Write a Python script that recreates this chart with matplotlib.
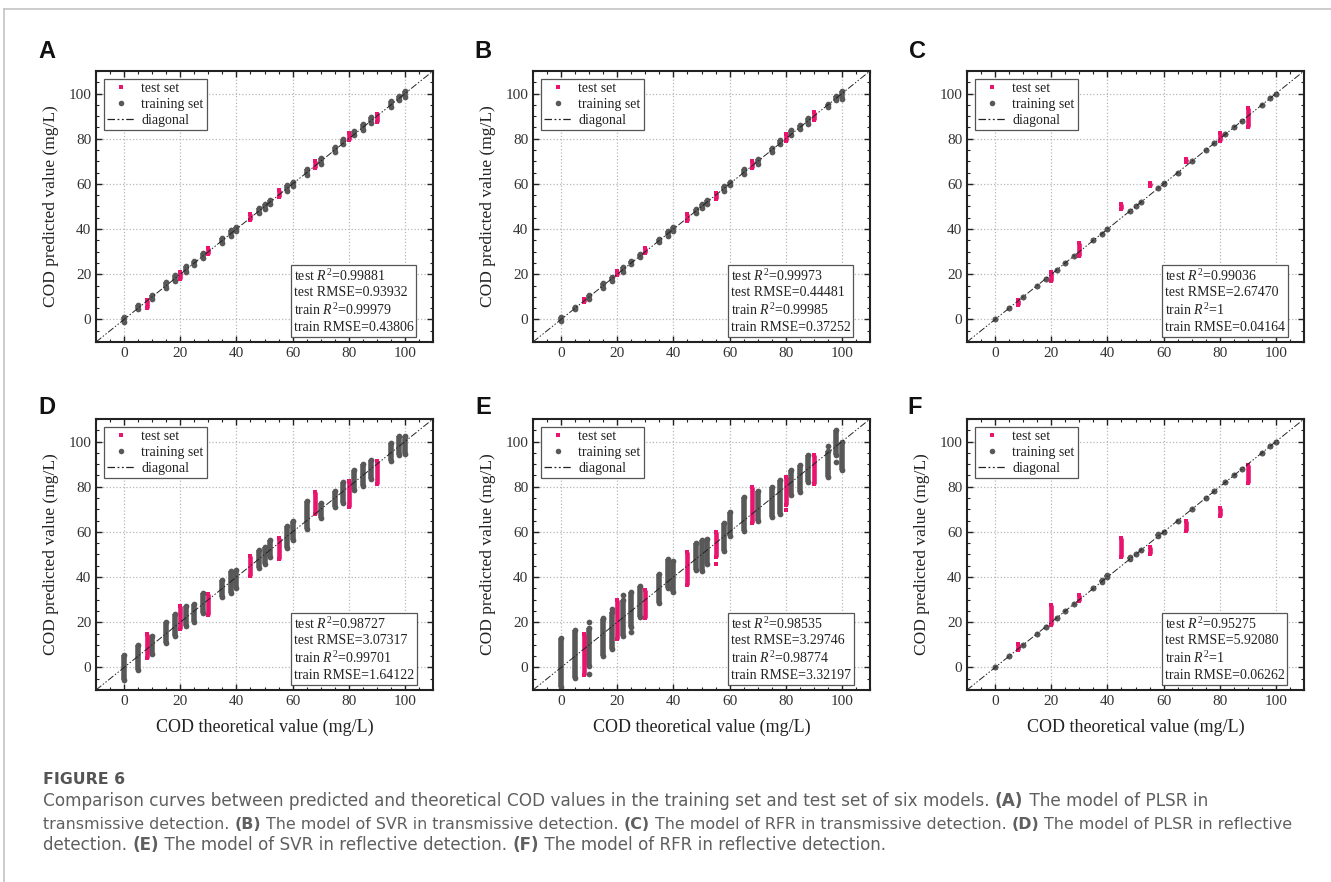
import matplotlib
matplotlib.use("Agg")
import matplotlib.pyplot as plt
from matplotlib.lines import Line2D
from matplotlib.ticker import MultipleLocator

plt.rcParams['font.family'] = ['Liberation Serif']
plt.rcParams['mathtext.fontset'] = 'custom'
plt.rcParams['mathtext.rm'] = 'Liberation Serif'
plt.rcParams['mathtext.it'] = 'Liberation Serif:italic'

# COD levels (mg/L)
train_x = [0, 5, 10, 15, 18, 22, 25, 28, 35, 38, 40, 48, 50, 52, 58, 60, 65, 70, 75, 78, 82, 85, 88, 95, 98, 100]
test_x = [8, 20, 30, 45, 55, 68, 80, 90]

# lowest / highest predicted value of each column, per model
A_train_lo = [-1, 4.5, 9, 14, 17, 21, 24, 27, 34, 37, 39, 47, 49, 51, 57, 59, 64, 69, 74, 77.5, 81.5, 84, 87, 94, 97, 98.5]
A_train_hi = [1, 6.5, 11, 16.5, 19.5, 23.5, 26, 29.5, 36, 39.5, 41, 49.5, 51, 53, 59.5, 61, 66.5, 71.5, 76.5, 80, 83.5, 86.5, 89.5, 96.5, 99, 101]
A_test_lo = [5, 18, 29, 44, 54, 67, 79.5, 87.5]
A_test_hi = [8.5, 21, 31.5, 46.5, 57.5, 70, 82.5, 91]

B_train_lo = [-0.5, 4.5, 9, 14, 17, 21, 24.5, 27.5, 34.5, 37, 39, 47, 49.5, 51, 57, 59.5, 64.5, 69, 74, 77.5, 81.5, 84.5, 86.5, 94, 97, 97.5]
B_train_hi = [1, 5.5, 11, 16, 19, 23, 26, 29, 35.5, 39, 41, 49, 51, 53, 59, 61, 66.5, 71, 76, 79.5, 84, 86, 89, 95.5, 99, 101]
B_test_lo = [7.5, 19.5, 29.5, 43.5, 53.5, 67, 79, 88.5]
B_test_hi = [9, 21.5, 31.5, 46.5, 56, 70, 82, 92]

C_train_lo = [0, 5, 10, 15, 18, 22, 25, 28, 35, 38, 40, 48, 50, 52, 58, 60, 65, 70, 75, 78, 82, 85, 88, 95, 98, 100]
C_train_hi = [0, 5, 10, 15, 18, 22, 25, 28, 35, 38, 40, 48, 50, 52, 58, 60.5, 65, 70, 75, 78, 82, 85, 88, 95, 98, 100]
C_test_lo = [6.5, 17, 28, 49, 59, 69.5, 79, 85]
C_test_hi = [8.5, 21, 34, 51, 60.5, 71, 82.5, 93.5]

D_train_lo = [-5.5, -1, 6, 11, 14, 18.5, 20, 24, 31, 33, 35, 44, 46, 49, 53, 56.5, 61.5, 66, 71, 73, 78.5, 80.5, 83.5, 91.5, 94, 94.5]
D_train_hi = [5.5, 10, 14, 20, 23.5, 27, 28, 33, 38.5, 42.5, 43, 52, 53.5, 56.5, 62.5, 65, 73.5, 73, 78, 82, 87.5, 90, 92, 99.5, 102.5, 102.5]
D_test_lo = [4, 17, 23, 40.5, 48, 68, 71, 81]
D_test_hi = [15, 27, 32.5, 49.5, 57.5, 77.5, 82.5, 91.5]

E_train_lo = [-8.5, -4.5, 0.5, 5, 8, 14, 18, 22.5, 28.5, 35, 33.5, 43, 42.5, 46, 51.5, 58, 60.5, 65, 66.5, 68, 76.5, 77.5, 82, 84.5, 94, 87.5]
E_train_hi = [13, 16.5, 17.5, 21.5, 24.5, 30, 33.5, 36, 41.5, 48, 47, 55, 56.5, 57, 64, 69, 75.5, 78, 80, 83, 87.5, 89.5, 94, 96, 105, 100]
E_test_lo = [-3.5, 12.5, 22, 36.5, 49, 64, 72, 81]
E_test_hi = [15, 30, 34.5, 51, 60, 80, 84.5, 94]
# stray single predictions in model E
E_train_out_x = [10, 10, 15, 18, 22, 25, 95, 98]
E_train_out_y = [20, -3, 22, 26, 32, 15.5, 98, 91]
E_test_out_x = [55, 80]
E_test_out_y = [46, 69.5]

F_train_lo = [0, 5, 10, 15, 18, 22, 25, 28, 35, 38, 40, 48, 50, 52, 58, 60, 65, 70, 75, 78, 82, 85, 88, 95, 98, 100]
F_train_hi = [0, 5, 10, 15, 18, 22, 25, 28, 35, 38.5, 41, 49, 50, 52, 59, 60, 65, 70, 75, 78, 82, 85, 88, 95, 98, 100]
F_test_lo = [7.5, 19, 29.5, 49, 50, 60.5, 67, 81.5]
F_test_hi = [10.5, 27.5, 32, 57.5, 53.5, 65, 70.5, 89.5]

panel_names = ['A', 'B', 'C', 'D', 'E', 'F']
test_r2 = ['0.99881', '0.99973', '0.99036', '0.98727', '0.98535', '0.95275']
test_rmse = ['0.93932', '0.44481', '2.67470', '3.07317', '3.29746', '5.92080']
train_r2 = ['0.99979', '0.99985', '1', '0.99701', '0.98774', '1']
train_rmse = ['0.43806', '0.37252', '0.04164', '1.64122', '3.32197', '0.06262']

train_lo = [A_train_lo, B_train_lo, C_train_lo, D_train_lo, E_train_lo, F_train_lo]
train_hi = [A_train_hi, B_train_hi, C_train_hi, D_train_hi, E_train_hi, F_train_hi]
test_lo = [A_test_lo, B_test_lo, C_test_lo, D_test_lo, E_test_lo, F_test_lo]
test_hi = [A_test_hi, B_test_hi, C_test_hi, D_test_hi, E_test_hi, F_test_hi]

GRAY = '#585858'
PINK = '#e8146e'

W, H = 1331, 882
fig = plt.figure(figsize=(W / 100, H / 100), dpi=100)

# card border
fig.add_artist(Line2D([4 / W, 1], [1 - 9 / H, 1 - 9 / H], color='#c4c4c4', lw=1.2))
fig.add_artist(Line2D([4 / W, 4 / W], [0, 1 - 9 / H], color='#c4c4c4', lw=1.2))

col_left = [96, 533, 967]
row_top = [71, 419]
ax_w, ax_h = 337, 271
label_pos = [(47, 52), (483, 52), (917, 52), (47, 407), (483, 407), (915, 407)]

for i in range(6):
    r, c = divmod(i, 3)
    left = col_left[c]
    top = row_top[r]
    ax = fig.add_axes([left / W, 1 - (top + ax_h) / H, ax_w / W, ax_h / H])

    # training columns
    ax.vlines(train_x, train_lo[i], train_hi[i], color=GRAY, lw=4, zorder=2)
    ax.scatter(train_x, train_lo[i], s=17, color=GRAY, lw=0, zorder=2)
    ax.scatter(train_x, train_hi[i], s=17, color=GRAY, lw=0, zorder=2)
    # test columns
    ax.vlines(test_x, test_lo[i], test_hi[i], color=PINK, lw=3.3, zorder=3)
    ax.scatter(test_x, test_lo[i], s=11, marker='s', color=PINK, lw=0, zorder=3)
    ax.scatter(test_x, test_hi[i], s=11, marker='s', color=PINK, lw=0, zorder=3)
    if panel_names[i] == 'E':
        ax.scatter(E_train_out_x, E_train_out_y, s=17, color=GRAY, lw=0, zorder=2)
        ax.scatter(E_test_out_x, E_test_out_y, s=11, marker='s', color=PINK, lw=0, zorder=3)

    ax.plot([-10, 110], [-10, 110], color='#222222', lw=0.7,
            ls=(0, (7, 2, 1.5, 2, 1.5, 2)), zorder=4)

    ax.set_xlim(-10, 110)
    ax.set_ylim(-10, 110)
    ax.xaxis.set_minor_locator(MultipleLocator(5))
    ax.yaxis.set_minor_locator(MultipleLocator(5))
    ax.set_xticks([0, 20, 40, 60, 80, 100])
    ax.set_yticks([0, 20, 40, 60, 80, 100])
    ax.tick_params(which='both', direction='in', top=True, right=True,
                   labelsize=11, labelcolor='#333333', color='#222222')
    ax.tick_params(which='major', length=4, width=1)
    ax.tick_params(which='minor', length=2.5, width=0.8)
    ax.grid(True, which='major', ls=':', lw=0.9, color='#b8b8b8', zorder=0)
    for sp in ax.spines.values():
        sp.set_linewidth(1.5)
        sp.set_color('#222222')

    if panel_names[i] != 'C':
        ax.set_ylabel('COD predicted value (mg/L)', fontsize=12.5, color='#222222', labelpad=7)
    if r == 1:
        ax.set_xlabel('COD theoretical value (mg/L)', fontsize=13, color='#222222', labelpad=8)

    handles = [
        Line2D([], [], ls='none', marker='s', ms=3.5, color=PINK, mew=0),
        Line2D([], [], ls='none', marker='o', ms=4, color=GRAY, mew=0),
        Line2D([], [], color='#222222', lw=0.9, ls=(0, (6, 2, 1.5, 2, 1.5, 2))),
    ]
    leg = ax.legend(handles, ['test set', 'training set', 'diagonal'], loc='upper left',
                    fontsize=10, fancybox=False, framealpha=1, edgecolor='#555555',
                    borderpad=0.25, labelspacing=0.2, handlelength=2.0,
                    handletextpad=0.45, borderaxespad=0.55)
    leg.get_frame().set_linewidth(0.9)
    for t in leg.get_texts():
        t.set_color('#222222')

    stats = (f'test $R^2$={test_r2[i]}\n'
             f'test RMSE={test_rmse[i]}\n'
             f'train $R^2$={train_r2[i]}\n'
             f'train RMSE={train_rmse[i]}')
    ax.text(0.587, 0.03, stats, transform=ax.transAxes, ha='left', va='bottom',
            fontsize=10, color='#222222', linespacing=1.25, zorder=6,
            bbox=dict(boxstyle='square,pad=0.2', fc='white', ec='#555555', lw=0.9))

    fig.text(label_pos[i][0] / W, 1 - label_pos[i][1] / H, panel_names[i],
             family='Liberation Sans', fontweight='bold', fontsize=17,
             ha='center', va='center', color='#111111')

# caption
cap = fig.add_axes([0, 0, 1, 1])
cap.set_axis_off()
cap.set_xlim(0, W)
cap.set_ylim(H, 0)

cap.text(43, 784, 'FIGURE 6', family='DejaVu Sans', fontweight='bold', fontsize=11.3,
         color='#555555', va='baseline')

lines = [
    [('Comparison curves between predicted and theoretical COD values in the training set and test set of six models. ', False),
     ('(A)', True), (' The model of PLSR in', False)],
    [('transmissive detection. ', False), ('(B)', True),
     (' The model of SVR in transmissive detection. ', False), ('(C)', True),
     (' The model of RFR in transmissive detection. ', False), ('(D)', True),
     (' The model of PLSR in reflective', False)],
    [('detection. ', False), ('(E)', True),
     (' The model of SVR in reflective detection. ', False), ('(F)', True),
     (' The model of RFR in reflective detection.', False)],
]
line_y = [810, 832, 854]
line_size = [12.2, 11.4, 12.1]
for li, parts in enumerate(lines):
    prev = None
    for txt, bold in parts:
        kw = dict(family='DejaVu Sans', fontsize=line_size[li], color='#5f5f5f',
                  fontweight='bold' if bold else 'normal', va='bottom', ha='left')
        if prev is None:
            prev = cap.text(43, line_y[li], txt, **kw)
        else:
            prev = cap.annotate(txt, xy=(1, 0), xycoords=prev, **kw)

fig.savefig('out.png', dpi=100)
